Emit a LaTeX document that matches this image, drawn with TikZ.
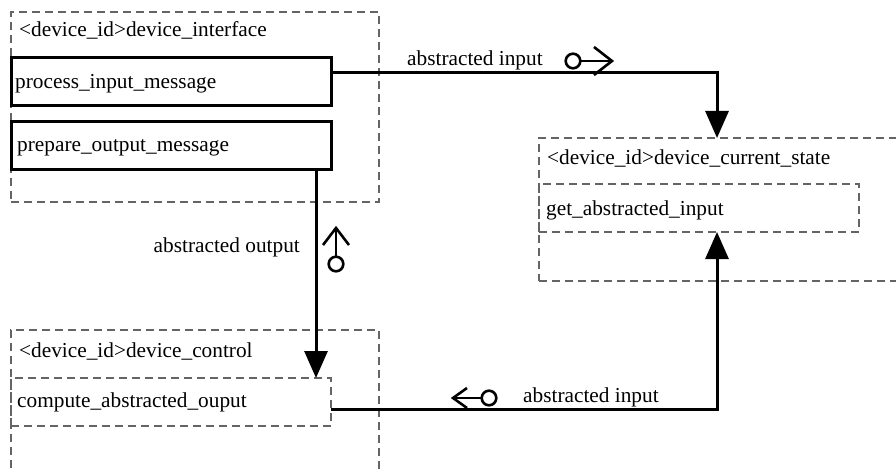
\documentclass[tikz,border=0pt]{standalone}
\usepackage{fontspec}
\setmainfont{Liberation Serif}
\usetikzlibrary{arrows.meta,calc}
\definecolor{dashgray}{RGB}{100,100,100}
\tikzset{
  outerbox/.style={draw=dashgray, dash pattern=on 8pt off 5pt, line width=1.4pt, anchor=north west, inner sep=0pt, outer sep=0pt},
  innerbox/.style={draw=dashgray, dash pattern=on 8pt off 5pt, line width=1.4pt, anchor=north west, inner sep=0pt, outer sep=0pt, minimum width=320pt, minimum height=48pt},
  opbox/.style={draw=black, line width=3pt, anchor=north west, inner sep=0pt, outer sep=0pt, minimum width=320pt, minimum height=48pt},
  txt/.style={anchor=base west, inner sep=0pt, font=\fontsize{21.3}{25}\selectfont},
  conn/.style={draw=black, line width=3pt, -{Triangle[length=27pt,width=23pt]}},
  sym/.style={draw=black, line width=2.6pt}
}
\begin{document}
\begin{tikzpicture}[x=1pt,y=-1pt]
\useasboundingbox (0,0) rectangle (896,473);
\clip (0,0) rectangle (896,473);
% device_interface
\node[outerbox, minimum width=368pt, minimum height=190pt] (di) at (11,12) {};
\node[txt] (dit) at (19,37) {<device\_id>device\_interface};
\node[opbox] (proc) at (11,58) {};
\node[txt] (proct) at (15,89) {process\_input\_message};
\node[opbox] (prep) at (11,122) {};
\node[txt] (prept) at (17,152) {prepare\_output\_message};
% device_current_state
\node[outerbox, minimum width=400pt, minimum height=143pt] (cs) at (539,138) {};
\node[txt] (cst) at (547,165) {<device\_id>device\_current\_state};
\node[innerbox] (get) at (539,184) {};
\node[txt] (gett) at (546,215) {get\_abstracted\_input};
% device_control
\node[outerbox, minimum width=368pt, minimum height=200pt] (dc) at (11,330) {};
\node[txt] (dct) at (19,357) {<device\_id>device\_control};
\node[innerbox] (comp) at (11,378) {};
\node[txt] (compt) at (17,407) {compute\_abstracted\_ouput};
% connector coordinates
\coordinate (p1) at ($(proc.north east)+(0,15)$);
\coordinate (cstop) at ($(cs.north west)+(178,0)$);
\coordinate (pb) at ($(prep.south east)+(-15,0)$);
\coordinate (ct) at ($(comp.north east)+(-15,0)$);
\coordinate (cr) at ($(comp.north east)+(0,31)$);
\coordinate (gb) at ($(get.south west)+(178,0)$);
\draw[conn] (p1) -| (cstop);
\draw[conn] (pb) -- (ct);
\draw[conn] (cr) -| (gb);
% labels
\node[txt] (l1) at (407,66) {abstracted input};
\node[txt, anchor=base east] (l2) at (300,252) {abstracted output};
\node[txt] (l3) at (523,402) {abstracted input};
% symbols
\draw[sym] (573,61) circle (7.3);
\draw[sym] (580.3,61) -- (612,61);
\draw[sym, line join=miter] (594,47) -- (612,61) -- (594,75);
\draw[sym] (336,264) circle (7.3);
\draw[sym] (336,256.7) -- (336,228);
\draw[sym, line join=miter] (323,245) -- (336,228) -- (349,245);
\draw[sym] (489,398) circle (7.3);
\draw[sym] (481.7,398) -- (453,398);
\draw[sym, line join=miter] (467,388) -- (453,398) -- (467,408);
\end{tikzpicture}
\end{document}
